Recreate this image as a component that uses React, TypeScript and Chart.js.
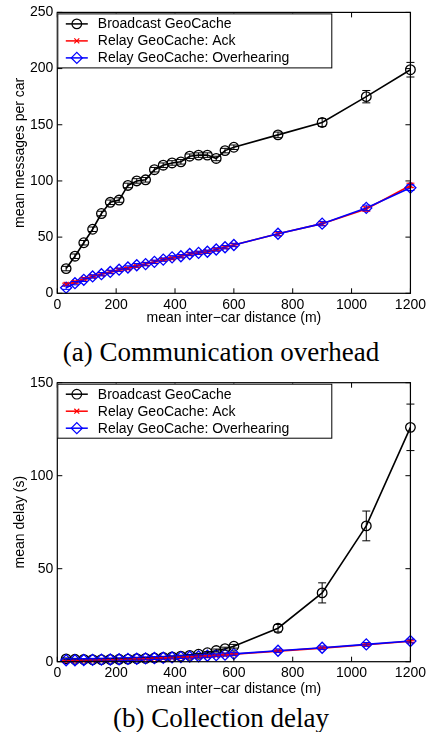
import React, { useEffect, useRef } from 'react';
import { Chart, registerables } from 'chart.js';

Chart.register(...registerables);

// ---------- data ----------
const distances = [30, 60, 90, 120, 150, 180, 210, 240, 270, 300, 330, 360, 390, 420, 450, 480, 510, 540, 570, 600, 750, 900, 1050, 1200];

const seriesNames = ['Broadcast GeoCache', 'Relay GeoCache: Ack', 'Relay GeoCache: Overhearing'];

const overheadBroadcast = [22, 33, 45, 57, 71, 81, 83, 96, 100, 101, 110, 114, 116, 117, 122, 123, 123, 120, 127, 130, 141, 152, 175, 199];
const overheadBroadcastErr = [2, 2, 2, 2, 2, 2, 2, 2, 2, 2, 2, 2, 2, 2, 2, 2, 2, 2, 2, 2, 2.5, 3.5, 5.5, 6.5];
const overheadAck = [8, 10, 13, 15, 17, 19, 21, 22, 24, 26, 28, 30, 31, 33, 35, 36, 37, 39, 41, 43, 53, 62, 75, 96];
const overheadAckErr = [1, 1, 1, 1, 1, 1, 1, 1, 1, 1, 1, 1, 1, 1, 1, 1, 1, 1, 1, 1, 1.5, 1.5, 2, 2];
const overheadOverhearing = [5, 9, 12, 15, 17, 19, 21, 23, 25, 26, 28, 30, 32, 33, 35, 36, 37, 39, 41, 43, 53, 62, 76, 94];
const overheadOverhearingErr = [1.5, 1.5, 1.5, 1.5, 1.5, 1.5, 1.5, 1.5, 1.5, 1.5, 1.5, 1.5, 1.5, 1.5, 1.5, 1.5, 1.5, 1.5, 1.5, 1.5, 2, 2, 2.5, 2.5];

const delayBroadcast = [1.5, 1.3, 1.2, 1.1, 1.1, 1.2, 1.3, 1.4, 1.6, 1.8, 2.0, 2.3, 2.6, 3.0, 3.4, 4.0, 4.8, 6.0, 7.0, 8.3, 18, 37, 73, 126];
const delayBroadcastErr = [0.5, 0.5, 0.5, 0.5, 0.5, 0.5, 0.5, 0.5, 0.5, 0.5, 0.5, 0.5, 0.5, 0.5, 0.5, 0.5, 0.6, 0.8, 0.8, 1, 2, 5.4, 8, 12.5];
const delayAck = [0.3, 0.4, 0.5, 0.6, 0.7, 0.8, 1.0, 1.1, 1.3, 1.5, 1.7, 1.9, 2.1, 2.3, 2.5, 2.8, 3.0, 3.3, 3.6, 4.0, 5.7, 7.3, 9.1, 11.0];
const delayAckErr = [0.3, 0.3, 0.3, 0.3, 0.3, 0.3, 0.3, 0.3, 0.3, 0.3, 0.3, 0.3, 0.3, 0.3, 0.3, 0.3, 0.3, 0.3, 0.3, 0.3, 0.5, 0.5, 0.5, 0.5];
const delayOverhearing = [0.8, 0.8, 0.9, 1.0, 1.1, 1.2, 1.3, 1.5, 1.6, 1.8, 2.0, 2.1, 2.3, 2.5, 2.7, 2.9, 3.2, 3.5, 3.8, 4.2, 5.9, 7.5, 9.3, 11.1];
const delayOverhearingErr = [0.8, 0.8, 0.8, 0.8, 0.8, 0.8, 0.8, 0.8, 0.8, 0.8, 0.8, 0.8, 0.8, 0.8, 0.8, 0.8, 0.8, 0.8, 0.8, 0.8, 1, 1, 1, 1];

const xTicks = [0, 200, 400, 600, 800, 1000, 1200];
const overheadYTicks = [0, 50, 100, 150, 200, 250];
const delayYTicks = [0, 50, 100, 150];

const xTitle = 'mean inter\u2212car distance (m)';
const overheadYTitle = 'mean messages per car';
const delayYTitle = 'mean delay (s)';
const captionA = '(a) Communication overhead';
const captionB = '(b) Collection delay';

// ---------- styles ----------
const COLORS = ['#000000', '#ff0000', '#0000ff'];
const STYLES = ['circle', 'crossRot', 'rectRot'];
const RADII = [4.8, 3.5, 5.5];
const FONT = 'Liberation Sans';

function drawMarker(ctx: CanvasRenderingContext2D, style: string, x: number, y: number, r: number) {
  ctx.beginPath();
  if (style === 'circle') {
    ctx.arc(x, y, r, 0, Math.PI * 2);
  } else if (style === 'crossRot') {
    const d = r * Math.SQRT1_2;
    ctx.moveTo(x - d, y - d); ctx.lineTo(x + d, y + d);
    ctx.moveTo(x + d, y - d); ctx.lineTo(x - d, y + d);
  } else {
    ctx.moveTo(x - r, y); ctx.lineTo(x, y - r); ctx.lineTo(x + r, y); ctx.lineTo(x, y + r); ctx.closePath();
  }
  ctx.stroke();
}

const matlabPlugin = {
  id: 'matlabDecor',
  afterDatasetsDraw(chart: any) {
    const ctx = chart.ctx;
    const ys = chart.scales.y;
    chart.data.datasets.forEach((ds: any, di: number) => {
      const meta = chart.getDatasetMeta(di);
      const errs: number[] = ds.errors || [];
      ctx.save();
      ctx.strokeStyle = ds.borderColor;
      ctx.lineWidth = 1;
      meta.data.forEach((pt: any, i: number) => {
        const v = ds.data[i].y;
        const e = errs[i] || 0;
        const yt = ys.getPixelForValue(v + e);
        const yb = ys.getPixelForValue(v - e);
        const cw = 4;
        ctx.beginPath();
        ctx.moveTo(pt.x, yt); ctx.lineTo(pt.x, yb);
        ctx.moveTo(pt.x - cw, yt); ctx.lineTo(pt.x + cw, yt);
        ctx.moveTo(pt.x - cw, yb); ctx.lineTo(pt.x + cw, yb);
        ctx.stroke();
      });
      ctx.restore();
    });
  },
  afterDraw(chart: any) {
    const ctx = chart.ctx;
    const a = chart.chartArea;
    const xs = chart.scales.x;
    const ys = chart.scales.y;
    const tl = 5;
    ctx.save();
    ctx.strokeStyle = '#000';
    ctx.lineWidth = 1.2;
    ctx.strokeRect(a.left, a.top, a.right - a.left, a.bottom - a.top);
    ctx.lineWidth = 1;
    ctx.beginPath();
    xs.ticks.forEach((t: any) => {
      const px = xs.getPixelForValue(t.value);
      ctx.moveTo(px, a.bottom); ctx.lineTo(px, a.bottom - tl);
      ctx.moveTo(px, a.top); ctx.lineTo(px, a.top + tl);
    });
    ys.ticks.forEach((t: any) => {
      const py = ys.getPixelForValue(t.value);
      ctx.moveTo(a.left, py); ctx.lineTo(a.left + tl, py);
      ctx.moveTo(a.right, py); ctx.lineTo(a.right - tl, py);
    });
    ctx.stroke();

    // legend
    const lx = a.left;
    const ly = a.top + 1;
    const lw = 274;
    const lh = 54;
    ctx.fillStyle = '#fff';
    ctx.fillRect(lx, ly, lw, lh);
    ctx.lineWidth = 1;
    ctx.strokeStyle = '#000';
    ctx.strokeRect(lx + 0.5, ly + 0.5, lw, lh);
    ctx.font = `14px "${FONT}"`;
    ctx.textBaseline = 'middle';
    ctx.textAlign = 'left';
    seriesNames.forEach((name, i) => {
      const ry = ly + 10.5 + i * 17;
      ctx.strokeStyle = COLORS[i];
      ctx.lineWidth = 1.5;
      ctx.beginPath();
      ctx.moveTo(lx + 8.5, ry); ctx.lineTo(lx + 30.5, ry);
      ctx.stroke();
      ctx.lineWidth = 1.2;
      drawMarker(ctx, STYLES[i], lx + 19.5, ry, RADII[i]);
      ctx.fillStyle = '#000';
      ctx.fillText(name, lx + 40.5, ry + 0.5);
    });
    ctx.restore();
  },
};

function makeDataset(i: number, vals: number[], errs: number[]) {
  return {
    label: seriesNames[i],
    data: distances.map((x, k) => ({ x, y: vals[k] })),
    errors: errs,
    borderColor: COLORS[i],
    backgroundColor: COLORS[i],
    borderWidth: 1.6,
    pointStyle: STYLES[i],
    pointRadius: RADII[i],
    pointHoverRadius: RADII[i],
    pointBorderColor: COLORS[i],
    pointBackgroundColor: 'rgba(0,0,0,0)',
    pointBorderWidth: 1.3,
    tension: 0,
    clip: false,
    order: 3 - i,
  };
}

interface ChartProps {
  top: number;
  height: number;
  areaTop: number;
  areaBottom: number;
  yMax: number;
  yTicks: number[];
  yTitle: string;
  series: [number[], number[]][];
  xTitleBottomPad: number;
}

function MatlabChart(p: ChartProps) {
  const ref = useRef<HTMLCanvasElement | null>(null);
  useEffect(() => {
    if (!ref.current) return;
    const areaLeft = 57.3;
    const areaRight = 412.3;
    const chart = new Chart(ref.current, {
      type: 'line',
      data: {
        datasets: p.series.map((s, i) => makeDataset(i, s[0], s[1])) as any,
      },
      options: {
        animation: false,
        responsive: false,
        devicePixelRatio: 1,
        events: [],
        layout: { padding: { left: 0, right: 429 - areaRight, top: p.areaTop, bottom: 0 } },
        plugins: { legend: { display: false }, tooltip: { enabled: false }, title: { display: false } },
        scales: {
          x: {
            type: 'linear',
            min: 0,
            max: 1200,
            grid: { display: false, drawTicks: false },
            border: { display: false },
            afterBuildTicks: (s: any) => { s.ticks = xTicks.map((v) => ({ value: v })); },
            afterFit: (s: any) => { s.height = p.height - p.areaBottom; },
            ticks: {
              autoSkip: false, maxRotation: 0, padding: 3, color: '#000', font: { family: FONT, size: 14 },
              callback: (v: any) => String(v),
            },
            title: { display: true, text: xTitle, color: '#000', font: { family: FONT, size: 14 }, padding: { top: 0, bottom: p.xTitleBottomPad } },
          },
          y: {
            type: 'linear',
            min: 0,
            max: p.yMax,
            grid: { display: false, drawTicks: false },
            border: { display: false },
            afterBuildTicks: (s: any) => { s.ticks = p.yTicks.map((v) => ({ value: v })); },
            afterFit: (s: any) => { s.width = areaLeft; },
            ticks: { padding: 4, color: '#000', font: { family: FONT, size: 14 }, callback: (v: any) => String(v) },
            title: { display: true, text: p.yTitle, color: '#000', font: { family: FONT, size: 14 }, padding: { top: 12, bottom: 0 } },
          },
        },
      },
      plugins: [matlabPlugin],
    } as any);
    return () => chart.destroy();
  }, []);
  return (
    <canvas
      ref={ref}
      width={429}
      height={p.height}
      style={{ position: 'absolute', left: 0, top: p.top, width: 429, height: p.height, display: 'block' }}
    />
  );
}

const captionStyle: React.CSSProperties = {
  position: 'absolute',
  left: 0,
  width: 442,
  textAlign: 'center',
  fontFamily: '"Liberation Serif", serif',
  fontSize: 27,
  lineHeight: '27px',
  color: '#000',
  whiteSpace: 'nowrap',
};

export default function App() {
  useEffect(() => {
    document.body.style.margin = '0';
  }, []);
  return (
    <div style={{ position: 'absolute', left: 0, top: 0, width: 429, height: 732, overflow: 'hidden', background: '#fff' }}>
      <MatlabChart
        top={0}
        height={332}
        areaTop={12}
        areaBottom={293.3}
        yMax={250}
        yTicks={overheadYTicks}
        yTitle={overheadYTitle}
        xTitleBottomPad={5}
        series={[
          [overheadBroadcast, overheadBroadcastErr],
          [overheadAck, overheadAckErr],
          [overheadOverhearing, overheadOverhearingErr],
        ]}
      />
      <div style={{ ...captionStyle, top: 338.6 }}>{captionA}</div>
      <MatlabChart
        top={345}
        height={356}
        areaTop={37.7}
        areaBottom={316.7}
        yMax={150}
        yTicks={delayYTicks}
        yTitle={delayYTitle}
        xTitleBottomPad={3.5}
        series={[
          [delayBroadcast, delayBroadcastErr],
          [delayAck, delayAckErr],
          [delayOverhearing, delayOverhearingErr],
        ]}
      />
      <div style={{ ...captionStyle, top: 704.6 }}>{captionB}</div>
    </div>
  );
}
